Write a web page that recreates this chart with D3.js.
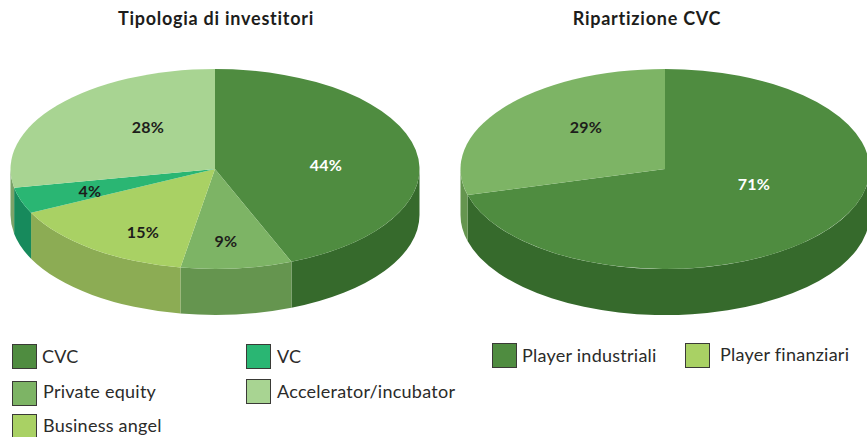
<!DOCTYPE html>
<html>
<head>
<meta charset="utf-8">
<script src="https://cdn.jsdelivr.net/npm/d3@7"></script>
<style>
  html, body { margin: 0; padding: 0; background: #fff; }
  svg { display: block; font-family: Lato, sans-serif; }
  .title { font-size: 18px; font-weight: 700; fill: #1d1d1b; text-anchor: middle; letter-spacing: 0.75px; }
  .pct { font-size: 16px; font-weight: 700; text-anchor: middle; letter-spacing: 0.2px; }
  .legend-text { font-size: 18px; fill: #2b2b2a; letter-spacing: 0.25px; }
</style>
</head>
<body>
<svg id="chart" width="867" height="437"></svg>
<script>
// Left pie
const investorLabels = ["CVC", "Private equity", "Business angel", "VC", "Accelerator/incubator"];
const investorValues = [43.9, 8.8, 15.1, 4.2, 28];
const investorTop = ["#4f8c40", "#7db465", "#a9d164", "#2ab673", "#a8d492"];
const investorSide = ["#366a2c", "#65954f", "#8cac54", "#178a5c", "#7ba368"];
const investorText = ["#fff", "#1d1d1b", "#1d1d1b", "#1d1d1b", "#1d1d1b"];

// Right pie
const cvcLabels = ["Player industriali", "Player finanziari"];
const cvcValues = [70.8, 29.2];
const cvcTop = ["#4f8c40", "#7db465"];
const cvcSide = ["#366a2c", "#65954f"];
const cvcText = ["#fff", "#1d1d1b"];

const rx = 204.5, ry = 100, depth = 46;
const svg = d3.select("#chart");
const pie = d3.pie().sort(null).value(d => d);
const arc = d3.arc().innerRadius(0).outerRadius(rx);

// point on the top ellipse, angle clockwise from 12 o'clock
const ex = a => rx * Math.sin(a);
const ey = a => -ry * Math.cos(a);

function sidePath(a0, a1) {
  return `M${ex(a0)},${ey(a0)}A${rx},${ry} 0 0 1 ${ex(a1)},${ey(a1)}` +
    `L${ex(a1)},${ey(a1) + depth}A${rx},${ry} 0 0 0 ${ex(a0)},${ey(a0) + depth}Z`;
}

function drawPie(cx, cy, title, values, top, side, text, labelPos) {
  svg.append("text").attr("class", "title").attr("x", cx + title.x).attr("y", 25).text(title.text);

  const g = svg.append("g").attr("transform", `translate(${cx},${cy})`);
  const slices = pie(values);

  // only the front half of the rim can be seen
  g.selectAll("path.side")
    .data(slices.filter(d => d.endAngle > Math.PI / 2 && d.startAngle < 3 * Math.PI / 2))
    .join("path")
    .attr("class", "side")
    .attr("fill", d => side[d.index])
    .attr("d", d => sidePath(Math.max(d.startAngle, Math.PI / 2), Math.min(d.endAngle, 3 * Math.PI / 2)));

  g.append("g")
    .attr("transform", `scale(1,${ry / rx})`)
    .selectAll("path")
    .data(slices)
    .join("path")
    .attr("fill", d => top[d.index])
    .attr("d", arc);

  g.selectAll("text")
    .data(slices)
    .join("text")
    .attr("class", "pct")
    .attr("fill", d => text[d.index])
    .attr("x", d => labelPos[d.index][0])
    .attr("y", d => labelPos[d.index][1])
    .text(d => Math.round(d.value) + "%");
}

drawPie(215, 169, {text: "Tipologia di investitori", x: 1}, investorValues, investorTop, investorSide, investorText,
  [[111, 2], [11, 78], [-72, 69], [-125, 28], [-67, -36]]);
drawPie(665, 169, {text: "Ripartizione CVC", x: -18}, cvcValues, cvcTop, cvcSide, cvcText,
  [[89, 21], [-79, -36]]);

// Legends
function legendItem(x, y, tx, ty, label, color) {
  svg.append("rect")
    .attr("x", x + 0.5).attr("y", y + 0.5).attr("width", 24).attr("height", 24)
    .attr("fill", color).attr("stroke", "#3a3a36").attr("stroke-width", 1);
  svg.append("text").attr("class", "legend-text").attr("x", tx).attr("y", ty).text(label);
}
legendItem(12, 344, 42, 363, investorLabels[0], investorTop[0]);
legendItem(12, 381, 43, 398, investorLabels[1], investorTop[1]);
legendItem(12, 414, 43, 432, investorLabels[2], investorTop[2]);
legendItem(246, 344, 277, 363, investorLabels[3], investorTop[3]);
legendItem(246, 379, 277, 398, investorLabels[4], investorTop[4]);
legendItem(492, 343, 522, 362, cvcLabels[0], cvcTop[0]);
legendItem(685, 343, 720, 361, cvcLabels[1], investorTop[2]);
</script>
</body>
</html>
